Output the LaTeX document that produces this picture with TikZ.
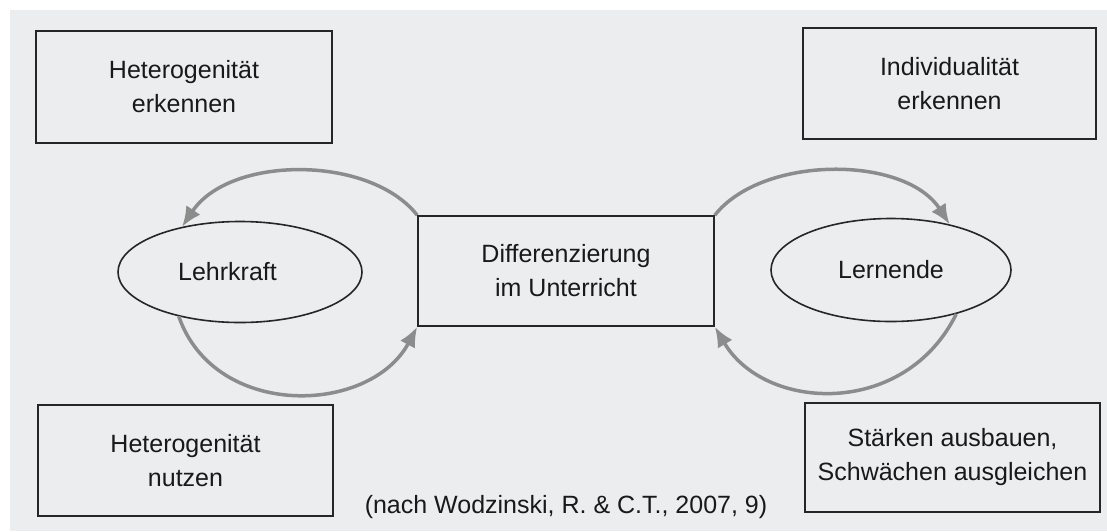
\documentclass[tikz,border=0pt]{standalone}
\usepackage{fontspec}
\setmainfont{Liberation Sans}
\usetikzlibrary{shapes.geometric,arrows.meta}
\definecolor{bgc}{RGB}{236,237,238}
\definecolor{arrc}{RGB}{140,140,140}
\tikzset{
  txt/.style={font=\fontsize{25}{34}\selectfont, align=center, text=black!90},
  boxnode/.style={txt, draw=black!85, line width=1.6pt, inner sep=0pt},
  ellnode/.style={txt, ellipse, draw=black!85, line width=1.6pt, inner sep=0pt},
  cyc/.style={draw=arrc, line width=3.5pt, -{Latex[length=20pt,width=17pt]}}
}
\begin{document}
\begin{tikzpicture}[x=1pt,y=-1pt]
\useasboundingbox (0,0) rectangle (1107,531);
\fill[white] (0,0) rectangle (1107,531);
\fill[bgc] (10,10) rectangle (1107,531);

\node[boxnode, minimum width=296pt, minimum height=112pt] (hetE) at (184,87) {Heterogenität\\erkennen};
\node[boxnode, minimum width=293pt, minimum height=111pt] (indE) at (949.5,83.5) {Individualität\\erkennen};
\node[boxnode, minimum width=296pt, minimum height=110pt] (diff) at (566,271) {Differenzierung\\im Unterricht};
\node[boxnode, minimum width=295pt, minimum height=111pt] (hetN) at (185.5,460.5) {Heterogenität\\nutzen};
\node[boxnode, minimum width=295pt, minimum height=109pt] (stae) at (952.5,457.5) {Stärken ausbauen,\\Schwächen ausgleichen};

\node[ellnode, minimum width=244pt, minimum height=101pt] (lehr) at (240,272) {\hspace*{-25pt}Lehrkraft};
\node[ellnode, minimum width=240pt, minimum height=103pt] (lern) at (891,270) {Lernende};

\node[txt, inner sep=0pt] (cite) at (566,507) {(nach Wodzinski, R. \& C.T., 2007, 9)};

\draw[cyc] (diff.north west) .. controls (370,155) and (230,155) .. (lehr.142);
\draw[cyc] (lehr.216) .. controls (215,420) and (370,415) .. (diff.south west);
\draw[cyc] (diff.north east) .. controls (762,155) and (905,155) .. (lern.38);
\draw[cyc] (lern.326) .. controls (905,418) and (765,412) .. (diff.south east);
\end{tikzpicture}
\end{document}
